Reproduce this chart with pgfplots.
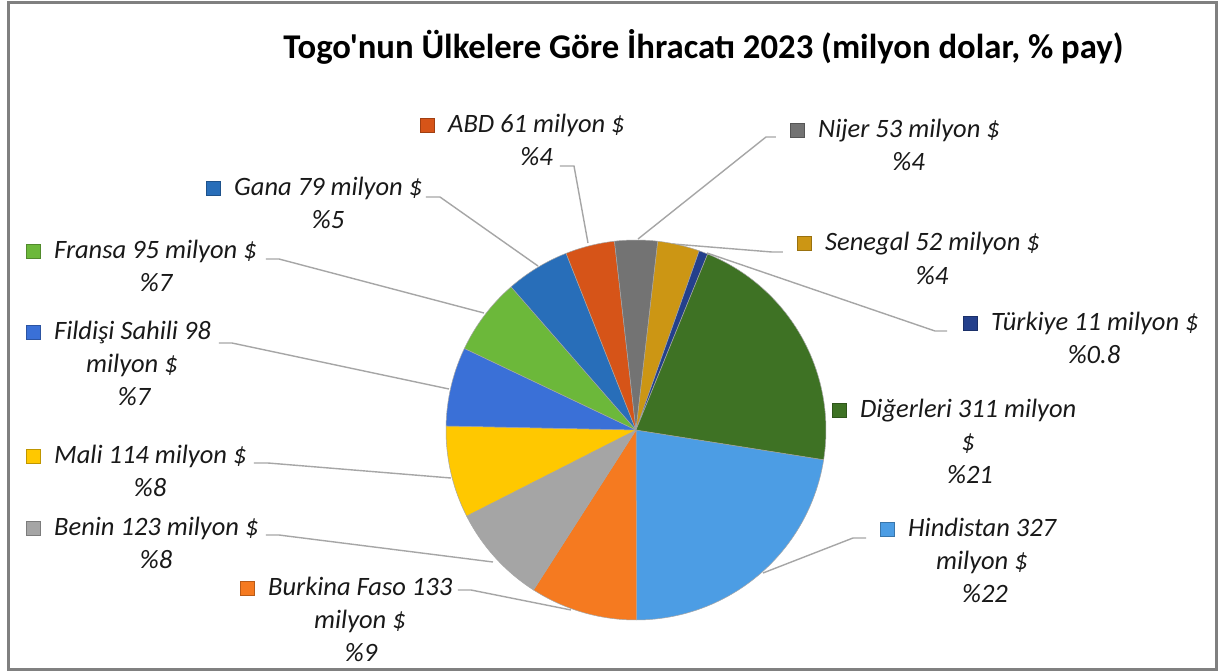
\documentclass[border=0pt]{standalone}
\usepackage{pgfplots}
\pgfplotsset{compat=1.18}
\usepgfplotslibrary{polar}
\usepackage{fontspec}
\setmainfont{Carlito}
\newfontfamily\carl{Carlito}
\definecolor{cHin}{RGB}{76,157,228}
\definecolor{cBur}{RGB}{245,122,32}
\definecolor{cBen}{RGB}{165,165,165}
\definecolor{cMal}{RGB}{255,200,0}
\definecolor{cFil}{RGB}{58,112,215}
\definecolor{cFra}{RGB}{108,184,58}
\definecolor{cGan}{RGB}{40,110,185}
\definecolor{cABD}{RGB}{214,84,24}
\definecolor{cNij}{RGB}{115,115,115}
\definecolor{cSen}{RGB}{204,150,20}
\definecolor{cTur}{RGB}{36,64,140}
\definecolor{cDig}{RGB}{62,114,36}
\definecolor{leader}{RGB}{166,166,166}
\definecolor{frame}{RGB}{128,128,128}
\newcommand\lf{\carl\itshape\fontsize{26.5}{32}\selectfont}
% values (million $), clockwise from first slice angle 99 deg
\def\pievals{327,133,123,114,98,95,79,61,53,52,11,311}%
\xdef\pietotal{0}%
\foreach \v in \pievals {\pgfmathsetmacro\tmp{\pietotal+\v}\xdef\pietotal{\tmp}}%
\xdef\piecum{0}%
\foreach \v [count=\i] in \pievals {%
  \pgfmathsetmacro\a{-9-\piecum/\pietotal*360}%
  \pgfmathsetmacro\b{-9-(\piecum+\v)/\pietotal*360}%
  \expandafter\xdef\csname pieA\i\endcsname{\a}%
  \expandafter\xdef\csname pieB\i\endcsname{\b}%
  \pgfmathsetmacro\tmp{\piecum+\v}\xdef\piecum{\tmp}}%
\newcommand\slice[2]{\addplot[fill=#2, draw=black!35, line width=0.5pt, domain=\csname pieB#1\endcsname:\csname pieA#1\endcsname, samples=60] {1} -- (axis cs:0,0) -- cycle;}
\newcommand\mk[3]{\addplot[only marks, mark=square*, mark size=7pt, mark options={fill=#1, draw=#1!75!black}] coordinates {(#2,#3)};}
\newcommand\ld[1]{\addplot[leader, line width=1.4pt] coordinates {#1};}
\newcommand\tl[3]{\node[anchor=base west, inner sep=0, font=\lf, text=black!90] at (axis cs:#1,#2) {#3};}
\newcommand\tc[3]{\node[anchor=base, inner sep=0, font=\lf, text=black!90] at (axis cs:#1,#2) {#3};}
\begin{document}%
\begin{tikzpicture}
\begin{axis}[at={(-636pt,430pt)}, anchor=north west, scale only axis,
  width=1219pt, height=672pt, xmin=0, xmax=1219, ymin=0, ymax=672,
  y dir=reverse, hide axis, clip=false]
\addplot[fill=white, draw=none] coordinates {(0,0) (1219,0) (1219,672) (0,672)} -- cycle;
\addplot[frame, line width=3pt] coordinates {(9,2.5) (1216,2.5) (1216,669) (9,669)} -- cycle;
\node[anchor=base, inner sep=0, font=\carl\bfseries\fontsize{34.7}{40}\selectfont] at (axis cs:703.5,58) {Togo'nun Ülkelere Göre İhracatı 2023 (milyon dolar, \% pay)};
% leader lines
\ld{(560,166) (574,166) (588,243)}
\ld{(776,137) (766,137) (638,239)}
\ld{(426,197) (440,197) (538,266)}
\ld{(783,252) (772,252) (673,244)}
\ld{(266,259) (279,259) (484,313)}
\ld{(947,331) (935,331) (707,253)}
\ld{(219,343) (232,343) (449,389)}
\ld{(254,463) (268,463) (451,478)}
\ld{(266,535) (279,535) (493,562)}
\ld{(458,590) (471,590) (571,610)}
\ld{(866,538) (853,538) (763,573)}
% markers
\mk{cABD}{427.5}{125}
\mk{cNij}{797.5}{130}
\mk{cGan}{213.5}{188}
\mk{cSen}{804.5}{243}
\mk{cFra}{33.5}{251}
\mk{cTur}{970.5}{323}
\mk{cFil}{33.5}{332}
\mk{cDig}{839.5}{410}
\mk{cMal}{33.5}{456}
\mk{cBen}{33.5}{528}
\mk{cBur}{247.5}{588}
\mk{cHin}{887.5}{529}
% labels
\tl{448}{132}{ABD 61 milyon \$}
\tc{536.5}{165}{\%4}
\tl{818}{137}{Nijer 53 milyon \$}
\tc{908.5}{170}{\%4}
\tl{234}{195}{Gana 79 milyon \$}
\tc{328}{228}{\%5}
\tl{825}{250}{Senegal 52 milyon \$}
\tc{932}{284}{\%4}
\tl{54}{258}{Fransa 95 milyon \$}
\tc{156}{291}{\%7}
\tl{991}{330}{Türkiye 11 milyon \$}
\tc{1094}{363}{\%0.8}
\tl{54}{339}{Fildişi Sahili 98}
\tc{132}{372}{milyon \$}
\tc{134}{405}{\%7}
\tl{860}{417}{Diğerleri 311 milyon}
\tc{968}{450}{\$}
\tc{970}{483}{\%21}
\tl{54}{463}{Mali 114 milyon \$}
\tc{150}{496}{\%8}
\tl{54}{535}{Benin 123 milyon \$}
\tc{156}{568}{\%8}
\tl{268}{595}{Burkina Faso 133}
\tc{360}{628}{milyon \$}
\tc{361}{661}{\%9}
\tl{908}{536}{Hindistan 327}
\tc{982}{569}{milyon \$}
\tc{985}{602}{\%22}
\end{axis}
\begin{polaraxis}[at={(0pt,0pt)}, anchor=center, scale only axis,
  width=380pt, height=380pt, ymin=0, ymax=1, hide axis, clip=false]
\slice{1}{cHin}
\slice{2}{cBur}
\slice{3}{cBen}
\slice{4}{cMal}
\slice{5}{cFil}
\slice{6}{cFra}
\slice{7}{cGan}
\slice{8}{cABD}
\slice{9}{cNij}
\slice{10}{cSen}
\slice{11}{cTur}
\slice{12}{cDig}
\end{polaraxis}
\end{tikzpicture}%
\end{document}
